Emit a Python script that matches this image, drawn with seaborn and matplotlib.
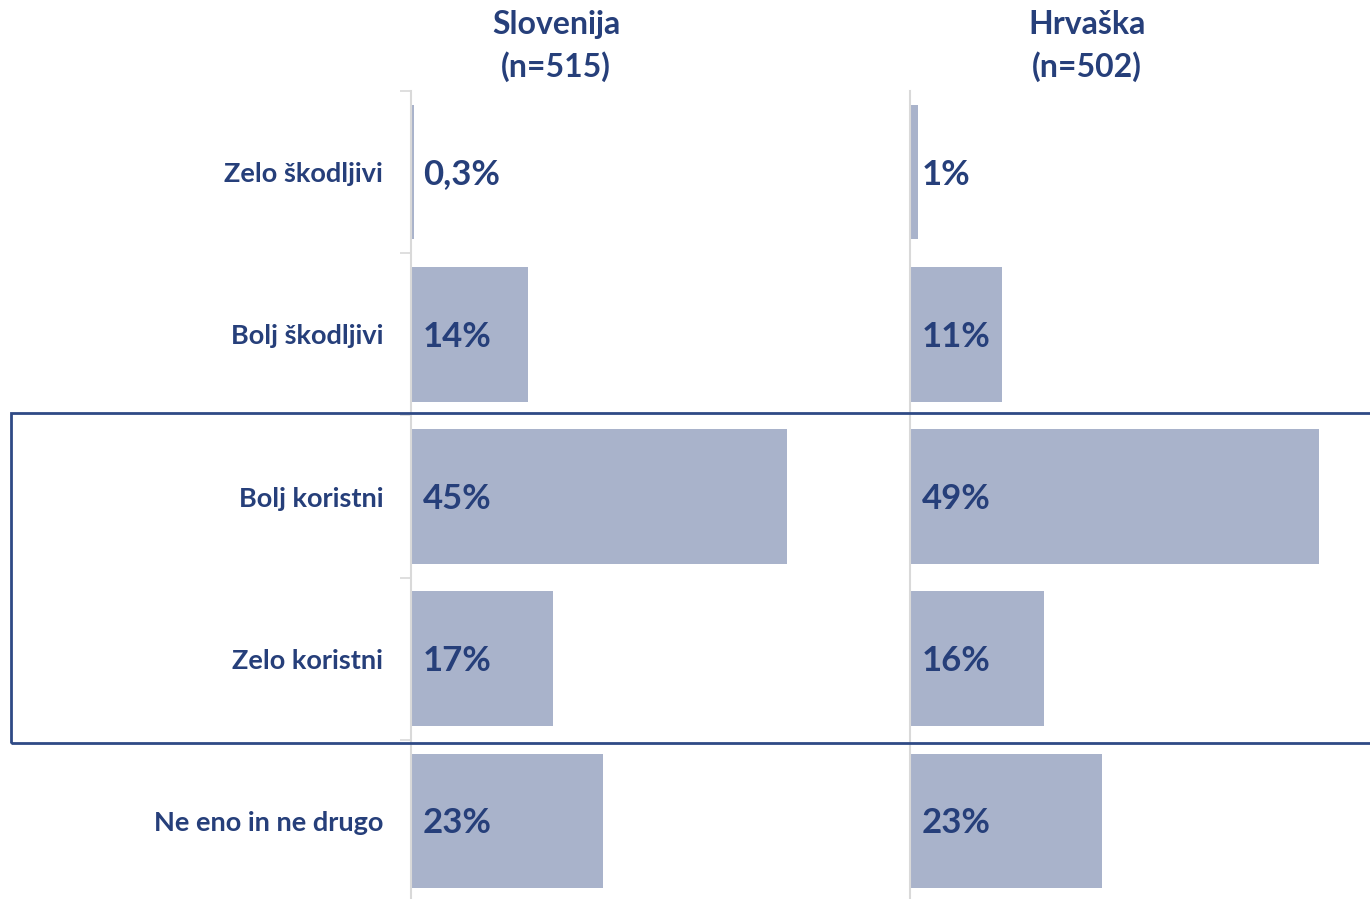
import matplotlib
matplotlib.use("Agg")
import matplotlib.pyplot as plt
import seaborn as sns
import pandas as pd
from matplotlib.patches import Rectangle
from matplotlib.ticker import FixedLocator, NullLocator

categories = ["Zelo škodljivi", "Bolj škodljivi", "Bolj koristni", "Zelo koristni", "Ne eno in ne drugo"]
slovenija = [0.3, 14, 45, 17, 23]
hrvaska = [1, 11, 49, 16, 23]
slo_labels = ["0,3%", "14%", "45%", "17%", "23%"]
hr_labels = ["1%", "11%", "49%", "16%", "23%"]
titles = ["Slovenija\n(n=515)", "Hrvaška\n(n=502)"]

sns.set_theme(style="white")
plt.rcParams["font.family"] = ["Lato", "DejaVu Sans"]

NAVY = "#263F7A"
BAR = "#A9B3CB"
AXC = "#D9D9D9"

W, H = 1370, 899
fig = plt.figure(figsize=(W / 100, H / 100), dpi=100)

scale = 8.35  # px per percent
ax_top = 91
ax_bot = -3
ax1 = fig.add_axes([411 / W, ax_bot / H, (910 - 411) / W, (H - ax_top - ax_bot) / H])
ax2 = fig.add_axes([910 / W, ax_bot / H, (W - 910) / W, (H - ax_top - ax_bot) / H])

for ax, vals, labs, left_px, right_px in [
    (ax1, slovenija, slo_labels, 411, 910),
    (ax2, hrvaska, hr_labels, 910, W),
]:
    df = pd.DataFrame({"cat": categories, "val": vals})
    sns.barplot(data=df, x="val", y="cat", ax=ax, color=BAR, saturation=1,
                width=0.83, orient="h", edgecolor="none")
    ax.set_xlim(0, (right_px - left_px) / scale)
    ax.set_ylim(len(categories) - 0.5, -0.5)
    for s in ["top", "right", "bottom"]:
        ax.spines[s].set_visible(False)
    ax.spines["left"].set_color(AXC)
    ax.spines["left"].set_linewidth(1.5)
    ax.set_xlabel("")
    ax.set_ylabel("")
    ax.set_xticks([])
    for i, t in enumerate(labs):
        ax.text(12 / scale, i + 0.015, t, va="center", ha="left", color=NAVY,
                fontsize=25, fontweight="bold")

ax1.set_yticks(range(len(categories)))
ax1.set_yticklabels(categories, fontsize=19.5, fontweight="bold", color=NAVY)
ax1.tick_params(axis="y", which="major", length=0, pad=20)
ax1.yaxis.set_minor_locator(FixedLocator([-0.5, 0.5, 1.5, 2.5, 3.5]))
ax1.tick_params(axis="y", which="minor", length=8, width=1.2, color=AXC, left=True)
ax2.set_yticks([])
ax2.yaxis.set_minor_locator(NullLocator())

fig.text(556 / W, 1 - 46 / H, titles[0], ha="center", va="center",
         fontsize=23, fontweight="bold", color=NAVY, linespacing=1.45)
fig.text(1087 / W, 1 - 46 / H, titles[1], ha="center", va="center",
         fontsize=23, fontweight="bold", color=NAVY, linespacing=1.45)

fig.patches.append(Rectangle((11 / W, 1 - 743 / H), (W + 10 - 11) / W, (743 - 413) / H,
                             transform=fig.transFigure, fill=False,
                             edgecolor="#2F4A85", linewidth=2, clip_on=False))

fig.savefig("out.png", dpi=100, facecolor="white")
